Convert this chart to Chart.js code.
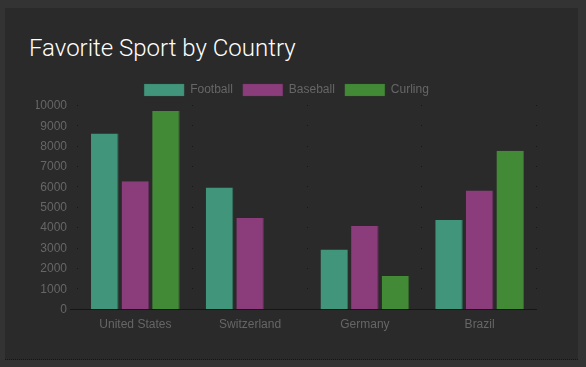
<!DOCTYPE html>
<html>
<head>
<meta charset="utf-8">
<script src="https://cdn.jsdelivr.net/npm/chart.js@4/dist/chart.umd.min.js"></script>
<style>
    html, body { margin: 0; padding: 0; background: #333333; width: 586px; height: 367px; overflow: hidden; }
    .card {
        position: absolute; left: 5px; top: 8px; width: 573px; height: 351px;
        background: #2a2a2a; border-bottom: 1px dotted #151515;
    }
    .card h1 {
        position: absolute; left: 24px; top: 28px; margin: 0;
        font: 300 24px/24px Roboto, sans-serif; color: #ffffff;
    }
    .chart-wrap { position: absolute; left: 15px; top: 66px; width: 533px; height: 258px; }
</style>
</head>
<body>
<div class="card">
    <h1>Favorite Sport by Country</h1>
    <div class="chart-wrap"><canvas id="sportChart"></canvas></div>
</div>
<script>
    // chart data
    const countries = ['United States', 'Switzerland', 'Germany', 'Brazil'];
    const football = [8650, 6000, 2950, 4400];
    const baseball = [6300, 4500, 4100, 5850];
    const curling = [9750, 0, 1650, 7800];
    const yTicks = [0, 1000, 2000, 3000, 4000, 5000, 6000, 7000, 8000, 9000, 10000];

    const gridDark = '#161616';
    const labelFont = { family: 'Arial, "Liberation Sans", sans-serif', size: 12 };

    // little dots where the category boundaries meet the value ticks
    const gridDots = {
        id: 'gridDots',
        afterDatasetsDraw(chart) {
            const x = chart.scales.x;
            const y = chart.scales.y;
            const area = chart.chartArea;
            const ctx = chart.ctx;
            const xs = [area.left];
            for (let i = 1; i < countries.length; i++) {
                xs.push((x.getPixelForValue(i - 1) + x.getPixelForValue(i)) / 2);
            }
            xs.push(area.right);
            ctx.save();
            ctx.fillStyle = gridDark;
            yTicks.forEach(v => {
                if (v === 0) return;
                const py = Math.round(y.getPixelForValue(v));
                xs.forEach(px => ctx.fillRect(Math.round(px) - 1, py - 1, 1, 1));
            });
            ctx.restore();
        }
    };

    function bars(label, data, color, edge) {
        return {
            label: label,
            data: data,
            backgroundColor: color,
            borderColor: edge,
            borderWidth: { top: 0, left: 0, bottom: 0, right: 1 }
        };
    }

    new Chart(document.getElementById('sportChart'), {
        type: 'bar',
        data: {
            labels: countries,
            datasets: [
                bars('Football', football, '#40957a', '#34735f'),
                bars('Baseball', baseball, '#8b3c7b', '#6c2f60'),
                bars('Curling', curling, '#438a37', '#356b2c')
            ]
        },
        options: {
            responsive: true,
            maintainAspectRatio: false,
            animation: false,
            layout: { padding: { left: 16, right: 16 } },
            plugins: {
                legend: {
                    labels: { color: '#666666', font: labelFont, boxWidth: 40 }
                },
                tooltip: { enabled: false }
            },
            scales: {
                x: {
                    grid: { display: false },
                    border: { display: false },
                    ticks: { color: '#666666', font: labelFont, padding: 0 }
                },
                y: {
                    min: 0,
                    max: 10000,
                    afterFit(scale) { scale.width = 42; },
                    border: { display: false },
                    grid: {
                        color: c => c.tick && c.tick.value === 0 ? gridDark : 'transparent',
                        tickColor: c => c.tick && c.tick.value === 0 ? gridDark : 'transparent'
                    },
                    ticks: {
                        stepSize: 1000,
                        color: '#666666',
                        font: labelFont,
                        callback: v => String(v)
                    }
                }
            }
        },
        plugins: [gridDots]
    });
</script>
</body>
</html>
